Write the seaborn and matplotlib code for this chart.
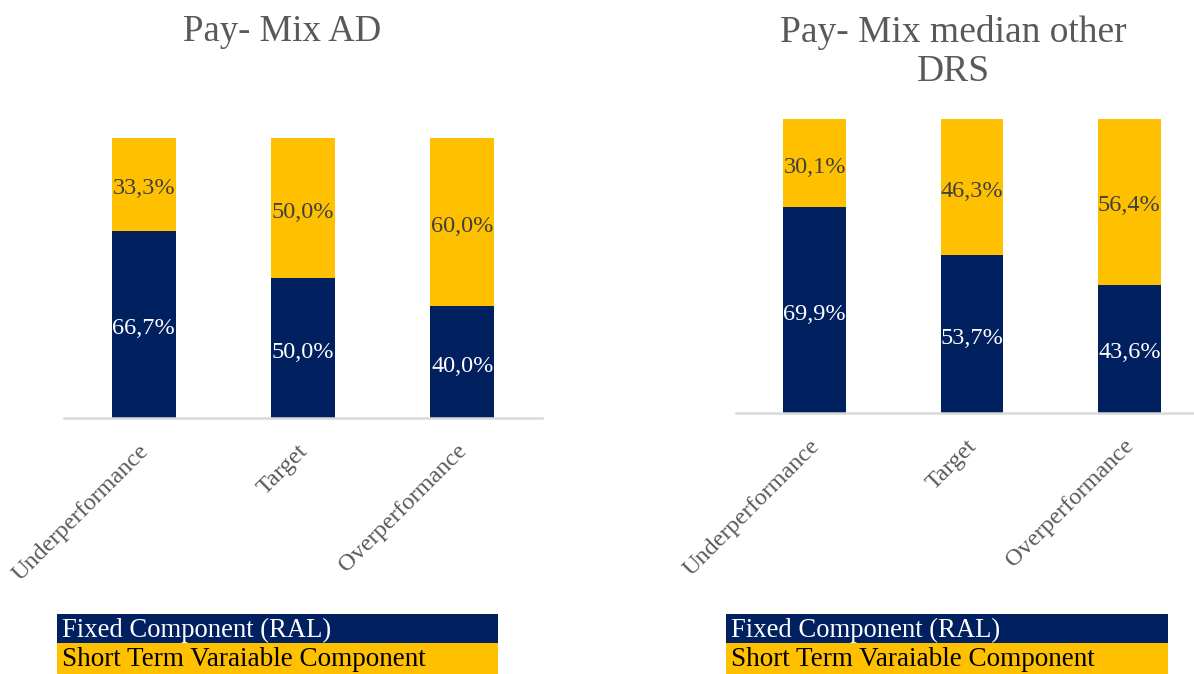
import matplotlib
matplotlib.use("Agg")
import matplotlib.pyplot as plt
import matplotlib.transforms as mtransforms
import seaborn as sns
from matplotlib.patches import Rectangle

# Data
categories = ['Underperformance', 'Target', 'Overperformance']
ad_fixed = [66.7, 50.0, 40.0]
ad_variable = [33.3, 50.0, 60.0]
drs_fixed = [69.9, 53.7, 43.6]
drs_variable = [30.1, 46.3, 56.4]
legend_labels = ['Fixed Component (RAL)', 'Short Term Varaiable Component']

NAVY = '#002060'
GOLD = '#FFC000'
GREY = '#595959'
DARK = '#404040'

sns.set_style("white")
plt.rcParams['font.family'] = ['Liberation Serif', 'DejaVu Serif']

fig = plt.figure(figsize=(11.94, 6.74), dpi=100)
W, H = 1194, 674


def px_axes(left, top, right, bottom):
    return fig.add_axes([left / W, 1 - bottom / H, (right - left) / W, (bottom - top) / H])


def fmt(v):
    return f"{v:.1f}".replace('.', ',') + '%'


def draw_panel(ax, fixed, variable):
    totals = [f + v for f, v in zip(fixed, variable)]
    sns.barplot(x=categories, y=totals, color=GOLD, width=0.4, linewidth=0,
                saturation=1, ax=ax)
    sns.barplot(x=categories, y=fixed, color=NAVY, width=0.4, linewidth=0,
                saturation=1, ax=ax)
    lower = mtransforms.offset_copy(ax.transData, fig=fig, x=0, y=-4, units='dots')
    for i, (f, v) in enumerate(zip(fixed, variable)):
        ax.text(i, f / 2, fmt(f), ha='center', va='center',
                color='white', fontsize=17.5, transform=lower)
        ax.text(i, f + v / 2, fmt(v), ha='center', va='center',
                color=DARK, fontsize=17.5, transform=lower)
    ax.set_ylim(0, 100)
    ax.set_xlim(-0.5, 2.5)
    ax.set_yticks([])
    ax.set_ylabel('')
    for s in ['top', 'left', 'right']:
        ax.spines[s].set_visible(False)
    ax.spines['bottom'].set_color('#d9d9d9')
    ax.spines['bottom'].set_linewidth(1.8)
    ax.tick_params(axis='x', length=0, pad=16, colors=GREY, labelsize=17.5)
    shift = mtransforms.ScaledTranslation(9 / 100, 0, fig.dpi_scale_trans)
    for lab in ax.get_xticklabels():
        lab.set_rotation(45)
        lab.set_ha('right')
        lab.set_va('top')
        lab.set_transform(lab.get_transform() + shift)


ax1 = px_axes(64, 138, 542, 418)
draw_panel(ax1, ad_fixed, ad_variable)
ax2 = px_axes(736, 119, 1208, 413)
draw_panel(ax2, drs_fixed, drs_variable)

fig.text(282 / W, 1 - 32 / H, 'Pay- Mix AD', ha='center', va='center',
         color=GREY, fontsize=26.5)
fig.text(953 / W, 1 - 32 / H, 'Pay- Mix median other', ha='center', va='center',
         color=GREY, fontsize=27)
fig.text(953 / W, 1 - 72 / H, 'DRS', ha='center', va='center',
         color=GREY, fontsize=27)

# Legend boxes
for x0, x1 in [(57, 498), (726, 1168)]:
    fig.add_artist(Rectangle((x0 / W, 1 - 643 / H), (x1 - x0) / W, 29 / H,
                             transform=fig.transFigure, color=NAVY, lw=0))
    fig.add_artist(Rectangle((x0 / W, 0), (x1 - x0) / W, 31 / H,
                             transform=fig.transFigure, color=GOLD, lw=0))
    fig.text((x0 + 5) / W, 1 - 630 / H, legend_labels[0], ha='left', va='center',
             color='white', fontsize=19.2)
    fig.text((x0 + 5) / W, 1 - 660 / H, legend_labels[1], ha='left', va='center',
             color='black', fontsize=19.5)

plt.savefig('out.png', dpi=100)
plt.close()
